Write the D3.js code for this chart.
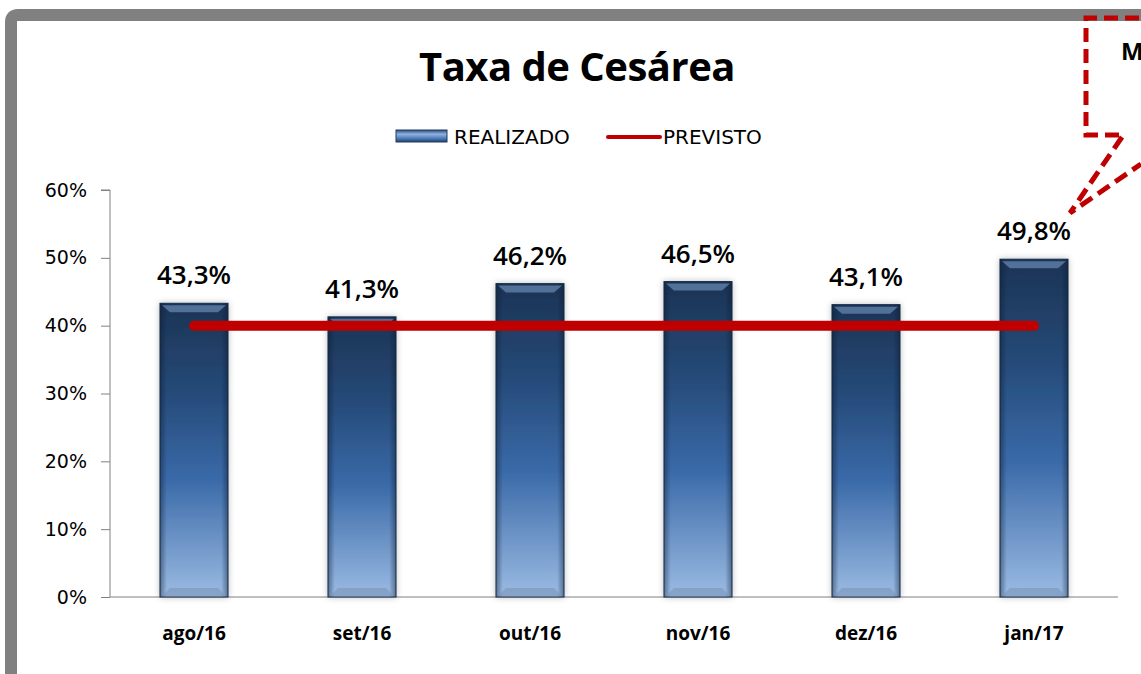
<!DOCTYPE html>
<html>
<head>
<meta charset="utf-8">
<script src="https://cdnjs.cloudflare.com/ajax/libs/d3/7.8.5/d3.min.js"></script>
<style>
  body { margin: 0; background: #fff; }
  svg { display: block; }
</style>
</head>
<body>
<div id="chart"></div>
<script>
// chart data
var months = ["ago/16", "set/16", "out/16", "nov/16", "dez/16", "jan/17"];
var realizado = [43.3, 41.3, 46.2, 46.5, 43.1, 49.8];
var previsto = [40, 40, 40, 40, 40, 40];
var yTicks = [0, 10, 20, 30, 40, 50, 60];

var width = 1141, height = 674;
var margin = {left: 110, right: 23, top: 190, bottom: 77};

var svg = d3.select("#chart").append("svg")
    .attr("width", width)
    .attr("height", height);

var defs = svg.append("defs");

// vertical gradient for the bars: dark navy on top, light blue at the base
var grad = defs.append("linearGradient")
    .attr("id", "barGrad")
    .attr("x1", 0).attr("y1", 0).attr("x2", 0).attr("y2", 1);
grad.append("stop").attr("offset", "0%").attr("stop-color", "#1c3354");
grad.append("stop").attr("offset", "30%").attr("stop-color", "#254a78");
grad.append("stop").attr("offset", "60%").attr("stop-color", "#3a6aa8");
grad.append("stop").attr("offset", "100%").attr("stop-color", "#9bbbe3");

// side shading to fake the bevel
var side = defs.append("linearGradient")
    .attr("id", "sideGrad")
    .attr("x1", 0).attr("y1", 0).attr("x2", 1).attr("y2", 0);
side.append("stop").attr("offset", "0%").attr("stop-color", "#0b1a30").attr("stop-opacity", 0.45);
side.append("stop").attr("offset", "10%").attr("stop-color", "#0b1a30").attr("stop-opacity", 0);
side.append("stop").attr("offset", "90%").attr("stop-color", "#0b1a30").attr("stop-opacity", 0);
side.append("stop").attr("offset", "100%").attr("stop-color", "#0b1a30").attr("stop-opacity", 0.45);

var legGrad = defs.append("linearGradient")
    .attr("id", "legGrad")
    .attr("x1", 0).attr("y1", 0).attr("x2", 0).attr("y2", 1);
legGrad.append("stop").attr("offset", "0%").attr("stop-color", "#2a4c7a");
legGrad.append("stop").attr("offset", "35%").attr("stop-color", "#8fb2e0");
legGrad.append("stop").attr("offset", "70%").attr("stop-color", "#4d7bb7");
legGrad.append("stop").attr("offset", "100%").attr("stop-color", "#22406a");

var glow = defs.append("filter").attr("id", "glow")
    .attr("x", "-30%").attr("y", "-10%").attr("width", "160%").attr("height", "120%");
glow.append("feGaussianBlur").attr("in", "SourceAlpha").attr("stdDeviation", 3).attr("result", "b");
glow.append("feColorMatrix").attr("in", "b").attr("type", "matrix")
    .attr("values", "0 0 0 0 0  0 0 0 0 0  0 0 0 0 0  0 0 0 0.25 0").attr("result", "s");
var fm = glow.append("feMerge");
fm.append("feMergeNode").attr("in", "s");
fm.append("feMergeNode").attr("in", "SourceGraphic");

// gray frame around the slide, cut off at the right and bottom
svg.append("path")
    .attr("d", "M11,674 L11,22 Q11,15 18,15 L1141,15")
    .attr("fill", "none")
    .attr("stroke", "#808080")
    .attr("stroke-width", 12);

// scales
var x = d3.scaleBand()
    .domain(months)
    .range([margin.left, width - margin.right])
    .paddingInner(0.595)
    .paddingOuter(0.2975);

var y = d3.scaleLinear()
    .domain([0, 60])
    .range([height - margin.bottom, margin.top]);

// title
svg.append("text")
    .attr("x", 577).attr("y", 81)
    .attr("text-anchor", "middle")
    .style("font-family", "'Open Sans', sans-serif")
    .style("font-weight", "bold")
    .style("font-size", "40px")
    .style("letter-spacing", "-0.5px")
    .text("Taxa de Cesárea");

// y axis
var yAxis = d3.axisLeft(y)
    .tickValues(yTicks)
    .tickFormat(function(d) { return d + "%"; })
    .tickSize(9)
    .tickPadding(14);

var gy = svg.append("g")
    .attr("transform", "translate(" + margin.left + ",0)")
    .call(yAxis);
gy.select(".domain").attr("stroke", "#808080").attr("d", "M-9," + y(60) + "H0V" + y(0));
gy.selectAll(".tick line").attr("stroke", "#808080");
gy.selectAll(".tick text")
    .style("font-family", "'DejaVu Sans', sans-serif")
    .style("font-size", "19px")
    .attr("fill", "#000");

// x axis
var xAxis = d3.axisBottom(x).tickSize(0).tickPadding(30);
var gx = svg.append("g")
    .attr("transform", "translate(0," + y(0) + ")")
    .call(xAxis);
gx.select(".domain").attr("stroke", "#808080").attr("d", "M" + margin.left + ",0H" + (width - margin.right));
gx.selectAll(".tick text")
    .style("font-family", "'Open Sans', sans-serif")
    .style("font-weight", "bold")
    .style("font-size", "19px")
    .attr("fill", "#000");

// bars
var bars = svg.append("g").selectAll("g.bar")
    .data(months)
    .enter().append("g")
    .attr("class", "bar");

bars.append("rect")
    .attr("x", function(d) { return x(d); })
    .attr("y", function(d, i) { return y(realizado[i]); })
    .attr("width", x.bandwidth())
    .attr("height", function(d, i) { return y(0) - y(realizado[i]); })
    .attr("fill", "url(#barGrad)")
    .attr("stroke", "#1a2f4e")
    .attr("stroke-width", 1)
    .attr("filter", "url(#glow)");

bars.append("rect")
    .attr("x", function(d) { return x(d); })
    .attr("y", function(d, i) { return y(realizado[i]); })
    .attr("width", x.bandwidth())
    .attr("height", function(d, i) { return y(0) - y(realizado[i]); })
    .attr("fill", "url(#sideGrad)");

// bevel highlight on top of each bar
bars.append("path")
    .attr("d", function(d, i) {
        var x0 = x(d) + 2, x1 = x(d) + x.bandwidth() - 2, t = y(realizado[i]) + 2;
        return "M" + x0 + "," + t + "H" + x1 + "L" + (x1 - 8) + "," + (t + 7) + "H" + (x0 + 8) + "Z";
    })
    .attr("fill", "#6a8bb5")
    .attr("opacity", 0.7);

// bevel at the base
bars.append("path")
    .attr("d", function(d) {
        var x0 = x(d) + 2, x1 = x(d) + x.bandwidth() - 2, b = y(0) - 1;
        return "M" + x0 + "," + b + "H" + x1 + "L" + (x1 - 8) + "," + (b - 8) + "H" + (x0 + 8) + "Z";
    })
    .attr("fill", "#7c95b5")
    .attr("opacity", 0.6);

// value labels
bars.append("text")
    .attr("x", function(d) { return x(d) + x.bandwidth() / 2; })
    .attr("y", function(d, i) { return y(realizado[i]) - 19; })
    .attr("text-anchor", "middle")
    .style("font-family", "'Open Sans', sans-serif")
    .style("font-weight", "600")
    .style("font-size", "26px")
    .attr("fill", "#000")
    .text(function(d, i) { return d3.format(".1f")(realizado[i]).replace(".", ",") + "%"; });

// PREVISTO line
var line = d3.line()
    .x(function(d, i) { return x(months[i]) + x.bandwidth() / 2; })
    .y(function(d) { return y(d); });

svg.append("path")
    .datum(previsto)
    .attr("d", line)
    .attr("fill", "none")
    .attr("stroke", "#c00000")
    .attr("stroke-width", 10)
    .attr("stroke-linecap", "round");

// legend
var leg = svg.append("g");
leg.append("rect")
    .attr("x", 396).attr("y", 130).attr("width", 51).attr("height", 12)
    .attr("fill", "url(#legGrad)")
    .attr("stroke", "#1f3a60").attr("stroke-width", 1);
leg.append("text")
    .attr("x", 454).attr("y", 144)
    .style("font-family", "'DejaVu Sans', sans-serif")
    .style("font-size", "20px")
    .text("REALIZADO");
leg.append("line")
    .attr("x1", 608).attr("x2", 660).attr("y1", 137).attr("y2", 137)
    .attr("stroke", "#c00000").attr("stroke-width", 4).attr("stroke-linecap", "round");
leg.append("text")
    .attr("x", 663).attr("y", 144)
    .style("font-family", "'DejaVu Sans', sans-serif")
    .style("font-size", "20px")
    .text("PREVISTO");

// callout box pointing at jan/17 (cut off at the right edge, as in the slide)
var callout = svg.append("g")
    .attr("fill", "none")
    .attr("stroke", "#c00000")
    .attr("stroke-width", 5)
    .attr("stroke-dasharray", "14,7");
callout.append("path")
    .attr("d", "M1160,18 H1086 V135 H1120");
callout.append("path")
    .attr("d", "M1122,137 L1070,213 L1141,164");
svg.append("text")
    .attr("x", 1121).attr("y", 60)
    .style("font-family", "'Open Sans', sans-serif")
    .style("font-weight", "bold")
    .style("font-size", "24px")
    .text("M");
</script>
</body>
</html>
